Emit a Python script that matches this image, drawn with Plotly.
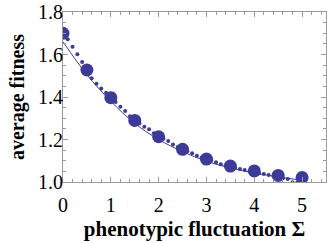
import plotly.graph_objects as go

# big markers (simulation)
sigma_big = [0, 0.5, 1, 1.5, 2, 2.5, 3, 3.5, 4, 4.5, 5]
fit_big = [1.70, 1.527, 1.397, 1.29, 1.213, 1.154, 1.108, 1.075, 1.052, 1.031, 1.021]

# dotted series (fine sampling)
sigma_dot = [round(0.1 * i, 1) for i in range(51)]
fit_dot = [1.69, 1.672, 1.637, 1.601, 1.565, 1.53, 1.488, 1.462, 1.44, 1.42,
           1.40, 1.376, 1.354, 1.334, 1.31, 1.29, 1.275, 1.26, 1.248, 1.229,
           1.213, 1.203, 1.193, 1.177, 1.165, 1.154, 1.145, 1.135, 1.124, 1.115,
           1.107, 1.100, 1.093, 1.083, 1.078, 1.073, 1.067, 1.061, 1.056, 1.050,
           1.045, 1.041, 1.038, 1.033, 1.028, 1.022, 1.018, 1.014, 0.999, 0.998, 0.997]

# solid curve (theory)
sigma_line = [0, 0.5, 1, 1.5, 2, 2.5, 3, 3.5, 4, 4.5, 5]
fit_line = [1.66, 1.505, 1.38, 1.276, 1.200, 1.143, 1.098, 1.066, 1.043, 1.024, 1.008]

col = "#3c3c98"
gray = "#9a9a9a"

fig = go.Figure()
fig.add_trace(go.Scatter(x=sigma_line, y=fit_line, mode="lines",
                         line=dict(color=col, width=1, shape="spline")))
fig.add_trace(go.Scatter(x=sigma_dot, y=fit_dot, mode="markers",
                         marker=dict(color=col, size=4)))
fig.add_trace(go.Scatter(x=sigma_big, y=fit_big, mode="markers",
                         marker=dict(color=col, size=13)))

ff = "Liberation Serif"
fig.update_layout(
    width=327, height=243,
    margin=dict(l=63, r=1, t=12, b=61, autoexpand=False),
    plot_bgcolor="white", paper_bgcolor="white",
    showlegend=False,
    font=dict(family=ff, color="black", size=19),
)
fig.update_xaxes(
    automargin=False,
    range=[0, 5.5], tickvals=[0, 1, 2, 3, 4, 5], ticks="inside", ticklen=5,
    tickcolor=gray, showline=True, linecolor=gray, linewidth=1, mirror="ticks",
    showgrid=False, zeroline=False, tickfont=dict(family=ff, size=20, color="black"),
    ticklabelstandoff=5,
    minor=dict(dtick=0.2, tick0=0, ticks="inside", ticklen=3, tickcolor=gray, showgrid=False),
    title=dict(text="<b>phenotypic fluctuation Σ</b>", font=dict(family=ff, size=21, color="black"), standoff=6),
)
fig.update_yaxes(
    automargin=False,
    range=[1.0, 1.8], tickvals=[1.0, 1.2, 1.4, 1.6, 1.8], ticktext=["1.0", "1.2", "1.4", "1.6", "1.8"],
    ticks="inside", ticklen=5,
    tickcolor=gray, showline=True, linecolor=gray, linewidth=1, mirror="ticks",
    showgrid=False, zeroline=False, tickfont=dict(family=ff, size=20, color="black"),
    ticklabelstandoff=-5,
    minor=dict(dtick=0.05, tick0=1.0, ticks="inside", ticklen=3, tickcolor=gray, showgrid=False),
    title=dict(text="<b>average fitness</b>", font=dict(family=ff, size=20, color="black"), standoff=8),
)
fig.write_html("out.html", config={"displayModeBar": False},
               post_script="document.body.style.margin='0';")
